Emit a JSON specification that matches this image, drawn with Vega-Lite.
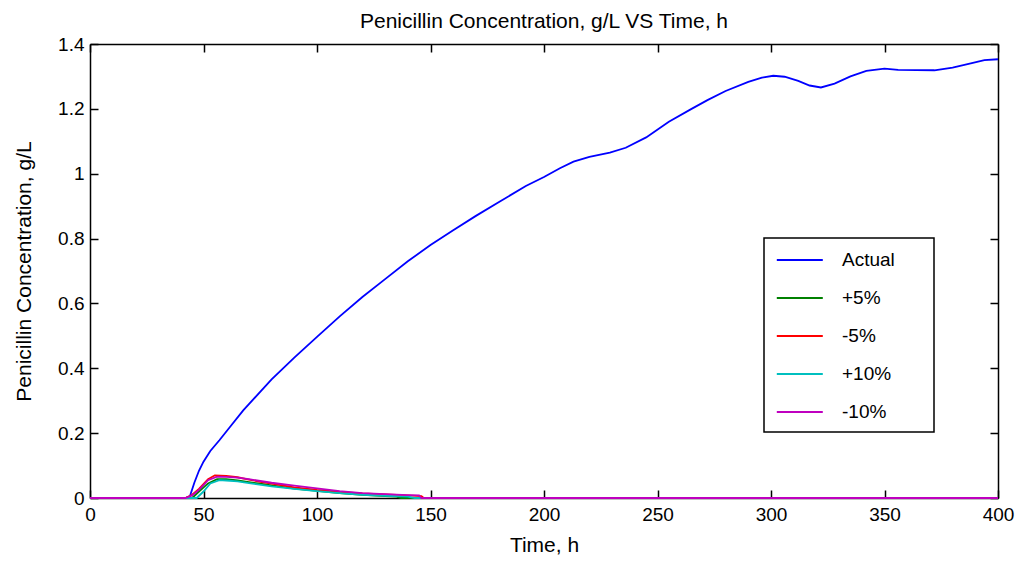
{
  "$schema": "https://vega.github.io/schema/vega-lite/v6.json",
  "width": 908,
  "height": 454,
  "autosize": {"type": "none"},
  "padding": {"left": 90, "top": 44, "right": 21, "bottom": 63},
  "background": "white",
  "title": {
    "text": "Penicillin Concentration, g/L VS Time, h",
    "font": "Liberation Sans",
    "fontSize": 21,
    "fontWeight": "normal",
    "color": "black",
    "offset": 3
  },
  "data": {
    "values": [
      {"t": 0, "c": 0, "s": "Actual"},
      {"t": 42, "c": 0, "s": "Actual"},
      {"t": 44, "c": 0.005, "s": "Actual"},
      {"t": 46, "c": 0.048, "s": "Actual"},
      {"t": 48, "c": 0.084, "s": "Actual"},
      {"t": 50, "c": 0.112, "s": "Actual"},
      {"t": 53, "c": 0.145, "s": "Actual"},
      {"t": 57, "c": 0.178, "s": "Actual"},
      {"t": 62, "c": 0.222, "s": "Actual"},
      {"t": 67.5, "c": 0.27, "s": "Actual"},
      {"t": 80, "c": 0.366, "s": "Actual"},
      {"t": 90, "c": 0.433, "s": "Actual"},
      {"t": 100, "c": 0.497, "s": "Actual"},
      {"t": 110, "c": 0.56, "s": "Actual"},
      {"t": 120, "c": 0.62, "s": "Actual"},
      {"t": 130, "c": 0.675, "s": "Actual"},
      {"t": 140, "c": 0.73, "s": "Actual"},
      {"t": 150, "c": 0.78, "s": "Actual"},
      {"t": 160, "c": 0.826, "s": "Actual"},
      {"t": 170, "c": 0.87, "s": "Actual"},
      {"t": 180, "c": 0.912, "s": "Actual"},
      {"t": 192, "c": 0.962, "s": "Actual"},
      {"t": 200, "c": 0.99, "s": "Actual"},
      {"t": 207, "c": 1.017, "s": "Actual"},
      {"t": 213, "c": 1.037, "s": "Actual"},
      {"t": 220, "c": 1.052, "s": "Actual"},
      {"t": 229, "c": 1.065, "s": "Actual"},
      {"t": 236, "c": 1.08, "s": "Actual"},
      {"t": 245, "c": 1.112, "s": "Actual"},
      {"t": 255, "c": 1.16, "s": "Actual"},
      {"t": 265, "c": 1.2, "s": "Actual"},
      {"t": 272, "c": 1.227, "s": "Actual"},
      {"t": 280, "c": 1.255, "s": "Actual"},
      {"t": 290, "c": 1.283, "s": "Actual"},
      {"t": 296, "c": 1.296, "s": "Actual"},
      {"t": 301, "c": 1.302, "s": "Actual"},
      {"t": 306, "c": 1.299, "s": "Actual"},
      {"t": 312, "c": 1.286, "s": "Actual"},
      {"t": 317, "c": 1.272, "s": "Actual"},
      {"t": 322, "c": 1.266, "s": "Actual"},
      {"t": 328, "c": 1.278, "s": "Actual"},
      {"t": 335, "c": 1.3, "s": "Actual"},
      {"t": 342, "c": 1.317, "s": "Actual"},
      {"t": 350, "c": 1.324, "s": "Actual"},
      {"t": 356, "c": 1.32, "s": "Actual"},
      {"t": 372, "c": 1.319, "s": "Actual"},
      {"t": 380, "c": 1.327, "s": "Actual"},
      {"t": 388, "c": 1.34, "s": "Actual"},
      {"t": 394, "c": 1.35, "s": "Actual"},
      {"t": 400, "c": 1.353, "s": "Actual"},

      {"t": 0, "c": 0, "s": "+5%"},
      {"t": 45, "c": 0, "s": "+5%"},
      {"t": 48, "c": 0.02, "s": "+5%"},
      {"t": 52, "c": 0.045, "s": "+5%"},
      {"t": 56, "c": 0.058, "s": "+5%"},
      {"t": 60, "c": 0.058, "s": "+5%"},
      {"t": 65, "c": 0.054, "s": "+5%"},
      {"t": 70, "c": 0.049, "s": "+5%"},
      {"t": 75, "c": 0.044, "s": "+5%"},
      {"t": 80, "c": 0.039, "s": "+5%"},
      {"t": 90, "c": 0.029, "s": "+5%"},
      {"t": 100, "c": 0.022, "s": "+5%"},
      {"t": 110, "c": 0.015, "s": "+5%"},
      {"t": 120, "c": 0.01, "s": "+5%"},
      {"t": 130, "c": 0.006, "s": "+5%"},
      {"t": 135, "c": 0.004, "s": "+5%"},
      {"t": 137, "c": 0, "s": "+5%"},
      {"t": 400, "c": 0, "s": "+5%"},

      {"t": 0, "c": 0, "s": "-5%"},
      {"t": 42, "c": 0, "s": "-5%"},
      {"t": 45, "c": 0.01, "s": "-5%"},
      {"t": 48, "c": 0.028, "s": "-5%"},
      {"t": 52, "c": 0.058, "s": "-5%"},
      {"t": 55, "c": 0.07, "s": "-5%"},
      {"t": 60, "c": 0.068, "s": "-5%"},
      {"t": 65, "c": 0.064, "s": "-5%"},
      {"t": 70, "c": 0.057, "s": "-5%"},
      {"t": 75, "c": 0.05, "s": "-5%"},
      {"t": 80, "c": 0.044, "s": "-5%"},
      {"t": 90, "c": 0.033, "s": "-5%"},
      {"t": 100, "c": 0.025, "s": "-5%"},
      {"t": 110, "c": 0.019, "s": "-5%"},
      {"t": 120, "c": 0.014, "s": "-5%"},
      {"t": 130, "c": 0.011, "s": "-5%"},
      {"t": 140, "c": 0.008, "s": "-5%"},
      {"t": 146, "c": 0.006, "s": "-5%"},
      {"t": 147, "c": 0, "s": "-5%"},
      {"t": 400, "c": 0, "s": "-5%"},

      {"t": 0, "c": 0, "s": "+10%"},
      {"t": 47, "c": 0, "s": "+10%"},
      {"t": 50, "c": 0.02, "s": "+10%"},
      {"t": 53, "c": 0.045, "s": "+10%"},
      {"t": 57, "c": 0.055, "s": "+10%"},
      {"t": 60, "c": 0.054, "s": "+10%"},
      {"t": 65, "c": 0.051, "s": "+10%"},
      {"t": 70, "c": 0.046, "s": "+10%"},
      {"t": 80, "c": 0.036, "s": "+10%"},
      {"t": 90, "c": 0.028, "s": "+10%"},
      {"t": 100, "c": 0.021, "s": "+10%"},
      {"t": 110, "c": 0.015, "s": "+10%"},
      {"t": 120, "c": 0.01, "s": "+10%"},
      {"t": 130, "c": 0.007, "s": "+10%"},
      {"t": 140, "c": 0.004, "s": "+10%"},
      {"t": 143, "c": 0, "s": "+10%"},
      {"t": 400, "c": 0, "s": "+10%"},

      {"t": 0, "c": 0, "s": "-10%"},
      {"t": 42, "c": 0, "s": "-10%"},
      {"t": 45, "c": 0.008, "s": "-10%"},
      {"t": 48, "c": 0.025, "s": "-10%"},
      {"t": 52, "c": 0.055, "s": "-10%"},
      {"t": 56, "c": 0.066, "s": "-10%"},
      {"t": 60, "c": 0.065, "s": "-10%"},
      {"t": 65, "c": 0.063, "s": "-10%"},
      {"t": 70, "c": 0.058, "s": "-10%"},
      {"t": 80, "c": 0.047, "s": "-10%"},
      {"t": 90, "c": 0.038, "s": "-10%"},
      {"t": 100, "c": 0.03, "s": "-10%"},
      {"t": 110, "c": 0.021, "s": "-10%"},
      {"t": 120, "c": 0.015, "s": "-10%"},
      {"t": 130, "c": 0.012, "s": "-10%"},
      {"t": 140, "c": 0.009, "s": "-10%"},
      {"t": 145, "c": 0.008, "s": "-10%"},
      {"t": 146, "c": 0, "s": "-10%"},
      {"t": 400, "c": 0, "s": "-10%"}
    ]
  },
  "layer": [
    {
      "mark": {"type": "line", "strokeWidth": 1.8, "clip": false},
      "encoding": {
        "x": {
          "field": "t", "type": "quantitative",
          "scale": {"domain": [0, 400], "nice": false, "zero": false},
          "axis": {"orient": "bottom", "title": "Time, h", "values": [0, 50, 100, 150, 200, 250, 300, 350, 400], "labelPadding": 15, "titlePadding": 10, "labelFlush": false}
        },
        "y": {
          "field": "c", "type": "quantitative",
          "scale": {"domain": [0, 1.4], "nice": false},
          "axis": {"orient": "left", "title": "Penicillin Concentration, g/L", "values": [0, 0.2, 0.4, 0.6, 0.8, 1, 1.2, 1.4], "format": "~g", "labelPadding": 14, "titlePadding": 23, "labelFlush": false}
        },
        "color": {
          "field": "s", "type": "nominal",
          "scale": {"domain": ["Actual", "+5%", "-5%", "+10%", "-10%"], "range": ["#0000ff", "#008000", "#ff0000", "#00bfbf", "#bf00bf"]},
          "legend": {
            "orient": "none", "legendX": 674, "legendY": 194,
            "title": "\u00a0", "titleOrient": "right", "titlePadding": 30, "titleFontSize": 19, "titleFont": "Liberation Sans",
            "symbolType": "M-0.8,0H3.2", "symbolSize": 529, "symbolStrokeWidth": 2,
            "labelFont": "Liberation Sans", "labelFontSize": 19, "labelColor": "black",
            "labelOffset": 43.5, "rowPadding": 15, "padding": 9.5,
            "strokeColor": "black", "fillColor": "white"
          }
        }
      }
    },
    {
      "mark": {"type": "line", "strokeOpacity": 0, "clip": true},
      "encoding": {
        "x": {
          "field": "t", "type": "quantitative",
          "axis": {"orient": "top", "title": null, "labels": false, "values": [0, 50, 100, 150, 200, 250, 300, 350, 400]}
        },
        "y": {
          "field": "c", "type": "quantitative",
          "axis": {"orient": "right", "title": null, "labels": false, "values": [0, 0.2, 0.4, 0.6, 0.8, 1, 1.2, 1.4]}
        },
        "detail": {"field": "s"}
      }
    }
  ],
  "resolve": {"axis": {"x": "independent", "y": "independent"}},
  "config": {
    "view": {"stroke": null},
    "legend": {"strokeWidth": 1.5},
    "axis": {
      "grid": false,
      "zindex": 0,
      "domainColor": "black", "domainWidth": 1.5,
      "tickColor": "black", "tickWidth": 1.5, "tickSize": -8,
      "labelFont": "Liberation Sans", "labelFontSize": 19, "labelColor": "black",
      "titleFont": "Liberation Sans", "titleFontSize": 21, "titleFontWeight": "normal", "titleColor": "black"
    }
  }
}
